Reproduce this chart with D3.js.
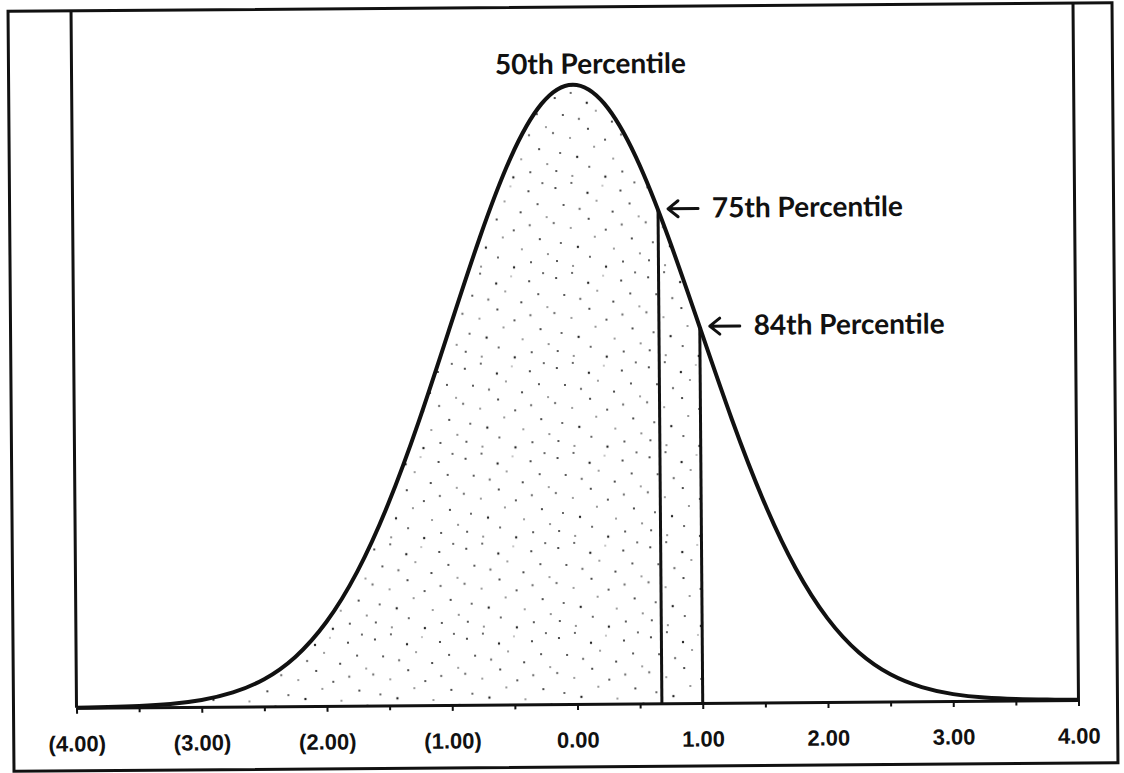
<!DOCTYPE html>
<html>
<head>
<meta charset="utf-8">
<script src="https://cdn.jsdelivr.net/npm/d3@7"></script>
<style>
  body { margin: 0; background: #fff; }
</style>
</head>
<body>
<div id="chart"></div>
<script>
// standard normal curve, read at quarter steps
const zValues = [-4, -3.75, -3.5, -3.25, -3, -2.75, -2.5, -2.25, -2, -1.75, -1.5, -1.25, -1, -0.75, -0.5, -0.25,
    0, 0.25, 0.5, 0.75, 1, 1.25, 1.5, 1.75, 2, 2.25, 2.5, 2.75, 3, 3.25, 3.5, 3.75, 4];
const densities = [0.0001, 0.0004, 0.0009, 0.0020, 0.0044, 0.0091, 0.0175, 0.0317, 0.0540, 0.0863, 0.1295, 0.1826, 0.2420, 0.3011, 0.3521, 0.3867,
    0.3989, 0.3867, 0.3521, 0.3011, 0.2420, 0.1826, 0.1295, 0.0863, 0.0540, 0.0317, 0.0175, 0.0091, 0.0044, 0.0020, 0.0009, 0.0004, 0.0001];

const majorTicks = [-4, -3, -2, -1, 0, 1, 2, 3, 4];
const minorTicks = [-3.5, -2.5, -1.5, -0.5, 0.5, 1.5, 2.5, 3.5];

const shadeUpTo = 1.0;
const percentileZ = [0, 0.674, 1.0];
const percentileDensity = [0.3989, 0.3178, 0.2420];
const percentileLabels = ["50th Percentile", "75th Percentile", "84th Percentile"];

const W = 1124, H = 773;
const frame = { left: 11, right: 1115, top: 7, bottom: 767 };
const plot = { left: 74, right: 1076, top: 7, bottom: 704 };

const svg = d3.select("#chart")
    .append("svg")
        .attr("width", W)
        .attr("height", H);

// stipple texture for the shaded area (jittered so it doesn't read as a grid)
const stippleDots = [
    [5, 8, 1.1], [21, 3, 0.9], [37, 13, 1.2], [52, 6, 0.8], [70, 11, 1.1], [84, 3, 0.9],
    [13, 25, 1.0], [29, 29, 1.2], [46, 21, 0.8], [62, 32, 1.1], [79, 24, 1.0],
    [3, 43, 1.2], [20, 48, 0.8], [38, 39, 1.1], [55, 50, 1.0], [71, 45, 1.2], [88, 37, 0.8],
    [10, 63, 0.9], [27, 67, 1.2], [44, 57, 1.0], [63, 69, 0.8], [81, 59, 1.1],
    [6, 81, 1.0], [22, 86, 1.1], [39, 77, 0.9], [55, 87, 1.2], [72, 82, 1.0], [89, 74, 1.1]
];
const pattern = svg.append("defs").append("pattern")
    .attr("id", "stipple")
    .attr("patternUnits", "userSpaceOnUse")
    .attr("width", 92)
    .attr("height", 90);
pattern.selectAll("circle")
    .data(stippleDots)
    .join("circle")
        .attr("cx", d => d[0])
        .attr("cy", d => d[1])
        .attr("r", d => d[2])
        .attr("fill", (d, i) => i % 4 === 3 ? "#777" : "#222");

const g = svg.append("g")
    .attr("transform", "rotate(-0.45, 562, 387)");

// outer frame
g.append("rect")
    .attr("x", frame.left)
    .attr("y", frame.top)
    .attr("width", frame.right - frame.left)
    .attr("height", frame.bottom - frame.top)
    .attr("fill", "none")
    .attr("stroke", "#111")
    .attr("stroke-width", 3);

const x = d3.scaleLinear()
    .domain([-4, 4])
    .range([plot.left, plot.right]);

const y = d3.scaleLinear()
    .domain([0, 0.449])
    .range([plot.bottom, plot.top]);

const points = zValues.map((z, i) => ({ z, d: densities[i] }));

g.append("clipPath")
    .attr("id", "shadeClip")
    .append("rect")
        .attr("x", plot.left)
        .attr("y", plot.top)
        .attr("width", x(shadeUpTo) - plot.left)
        .attr("height", plot.bottom - plot.top);

const area = d3.area()
    .x(d => x(d.z))
    .y0(y(0))
    .y1(d => y(d.d))
    .curve(d3.curveNatural);

g.append("path")
    .datum(points)
    .attr("clip-path", "url(#shadeClip)")
    .attr("fill", "url(#stipple)")
    .attr("d", area);

// percentile drop lines (not the 50th)
g.selectAll(".drop")
    .data(percentileZ.slice(1))
    .join("line")
        .attr("class", "drop")
        .attr("x1", z => x(z))
        .attr("x2", z => x(z))
        .attr("y1", y(0))
        .attr("y2", (z, i) => y(percentileDensity[i + 1]))
        .attr("stroke", "#111")
        .attr("stroke-width", 3);

const line = d3.line()
    .x(d => x(d.z))
    .y(d => y(d.d))
    .curve(d3.curveNatural);

g.append("path")
    .datum(points)
    .attr("fill", "none")
    .attr("stroke", "#111")
    .attr("stroke-width", 4)
    .attr("stroke-linejoin", "round")
    .attr("d", line);

// plot side borders
g.append("path")
    .attr("d", `M${plot.left},${plot.top}V${plot.bottom}M${plot.right},${plot.top}V${plot.bottom}`)
    .attr("fill", "none")
    .attr("stroke", "#111")
    .attr("stroke-width", 3);

const fmt = d3.format(".2f");
const xAxisGroup = g.append("g")
    .attr("transform", `translate(0,${plot.bottom})`)
    .call(d3.axisBottom(x)
        .tickValues(majorTicks)
        .tickSize(6)
        .tickSizeOuter(0)
        .tickPadding(22)
        .tickFormat(d => d < 0 ? `(${fmt(-d)})` : fmt(d)));

xAxisGroup.select(".domain").attr("stroke", "#111").attr("stroke-width", 3);
xAxisGroup.selectAll(".tick line").attr("stroke", "#111").attr("stroke-width", 2);
xAxisGroup.selectAll("text")
    .style("font-family", "'Liberation Sans', Arial, sans-serif")
    .style("font-weight", "bold")
    .style("font-size", "22px")
    .style("fill", "#111");

const minorAxis = g.append("g")
    .attr("transform", `translate(0,${plot.bottom})`)
    .call(d3.axisBottom(x)
        .tickValues(minorTicks)
        .tickSize(5)
        .tickSizeOuter(0)
        .tickFormat(""));
minorAxis.select(".domain").remove();
minorAxis.selectAll(".tick line").attr("stroke", "#111").attr("stroke-width", 2);

// annotations
const labelFont = "Lato, 'Open Sans', sans-serif";
const labelSize = "28px";

g.append("text")
    .attr("x", x(percentileZ[0]) + 18)
    .attr("y", y(percentileDensity[0]) - 11)
    .attr("text-anchor", "middle")
    .style("font-family", labelFont)
    .style("font-weight", "bold")
    .style("font-size", labelSize)
    .style("fill", "#111")
    .text(percentileLabels[0]);

const notes = percentileZ.slice(1).map((z, i) => ({
    tipX: x(z) + 9,
    tipY: y(percentileDensity[i + 1]) - 1,
    label: percentileLabels[i + 1]
}));

const note = g.selectAll(".note")
    .data(notes)
    .join("g")
        .attr("class", "note")
        .attr("transform", d => `translate(${d.tipX},${d.tipY})`);

note.append("path")
    .attr("d", "M31,0H1M11,-8L1,0L11,8")
    .attr("fill", "none")
    .attr("stroke", "#111")
    .attr("stroke-width", 3)
    .attr("stroke-linecap", "round")
    .attr("stroke-linejoin", "round");

note.append("text")
    .attr("x", 45)
    .attr("y", 9)
    .style("font-family", labelFont)
    .style("font-weight", "bold")
    .style("font-size", labelSize)
    .style("fill", "#111")
    .text(d => d.label);
</script>
</body>
</html>
